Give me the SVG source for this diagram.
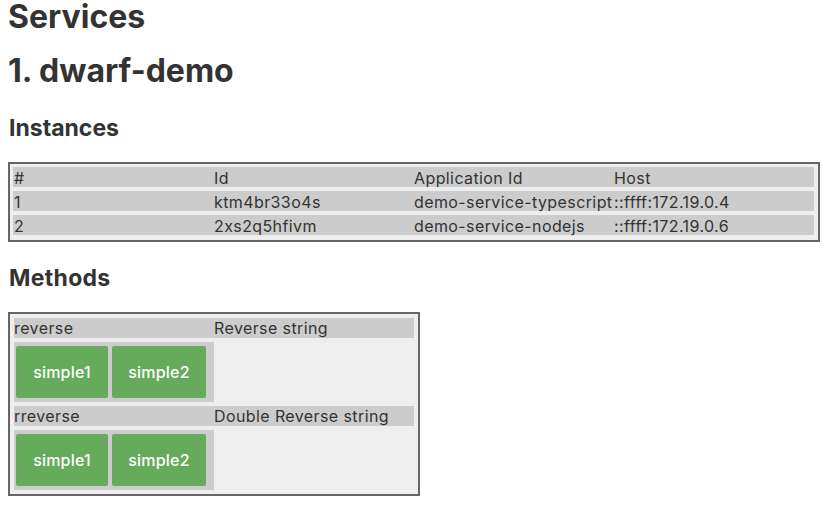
<svg xmlns="http://www.w3.org/2000/svg" width="824" height="528" viewBox="0 0 824 528">
<style>
text{font-family:Inter,"Liberation Sans",Arial,sans-serif;fill:#333}
.h1{font-size:32px;font-weight:700}
.h3{font-size:23px;font-weight:700}
.cell{font-size:16px;letter-spacing:0.4px}
.box{fill:#eeeeee;stroke:#666666;stroke-width:2}
.row{fill:#cccccc}
.btn{fill:#66ab5c}
.bt{font-size:16px;font-weight:500;fill:#ffffff;text-anchor:middle;letter-spacing:0.2px}
</style>
<rect width="824" height="528" fill="#ffffff"/>
<g id="headings">
<text class="h1" x="8" y="28">Services</text>
<text class="h1" x="8" y="82">1. dwarf-demo</text>
<text class="h3" x="9" y="136">Instances</text>
<text class="h3" x="9" y="286" letter-spacing="0.3">Methods</text>
</g>
<g id="instances">
<rect class="box" x="9" y="163" width="810" height="78"/>
<rect class="row" x="13" y="167" width="801" height="20"/>
<rect class="row" x="13" y="191" width="801" height="20"/>
<rect class="row" x="13" y="215" width="801" height="20"/>
<text class="cell" x="14" y="184">#</text>
<text class="cell" x="214" y="184">Id</text>
<text class="cell" x="414" y="184">Application Id</text>
<text class="cell" x="614" y="184">Host</text>
<text class="cell" x="14" y="208">1</text>
<text class="cell" x="214" y="208">ktm4br33o4s</text>
<text class="cell" x="414" y="208">demo-service-typescript</text>
<text class="cell" x="614" y="208">::ffff:172.19.0.4</text>
<text class="cell" x="14" y="232">2</text>
<text class="cell" x="214" y="232">2xs2q5hfivm</text>
<text class="cell" x="414" y="232">demo-service-nodejs</text>
<text class="cell" x="614" y="232">::ffff:172.19.0.6</text>
</g>
<g id="methods">
<rect class="box" x="9" y="313" width="410" height="182"/>
<g id="method-reverse">
<rect class="row" x="14" y="318" width="400" height="20"/>
<text class="cell" x="14" y="334">reverse</text>
<text class="cell" x="214" y="334">Reverse string</text>
<rect class="row" x="14" y="342" width="200" height="60"/>
<rect class="btn" x="16" y="346" width="92" height="52" rx="2"/>
<text class="bt" x="62" y="378">simple1</text>
<rect class="btn" x="112" y="346" width="94" height="52" rx="2"/>
<text class="bt" x="159" y="378">simple2</text>
</g>
<g id="method-rreverse">
<rect class="row" x="14" y="406" width="400" height="20"/>
<text class="cell" x="14" y="422">rreverse</text>
<text class="cell" x="214" y="422">Double Reverse string</text>
<rect class="row" x="14" y="430" width="200" height="60"/>
<rect class="btn" x="16" y="434" width="92" height="52" rx="2"/>
<text class="bt" x="62" y="466">simple1</text>
<rect class="btn" x="112" y="434" width="94" height="52" rx="2"/>
<text class="bt" x="159" y="466">simple2</text>
</g>
</g>
</svg>
